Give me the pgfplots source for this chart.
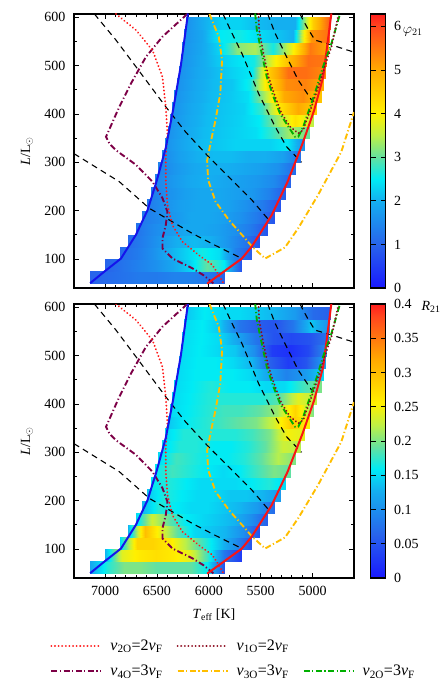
\documentclass[border=0pt]{standalone}
\usepackage{fontspec}
\setmainfont{Liberation Serif}
\usepackage{pgfplots}
\usepackage{pgfplotstable}
\pgfplotsset{compat=1.18}

\pgfplotsset{
  colormap={phase}{rgb255(0pt)=(25,25,255) rgb255(100pt)=(40,100,235) rgb255(200pt)=(20,175,240)
    rgb255(250pt)=(0,235,245) rgb255(300pt)=(100,225,160) rgb255(350pt)=(190,240,70)
    rgb255(400pt)=(255,240,0) rgb255(500pt)=(255,170,0) rgb255(600pt)=(255,70,30) rgb255(628pt)=(255,30,30)},
  panel/.style={
    scale only axis, width=280pt, height=274pt,
    xmin=4600, xmax=7300, x dir=reverse, ymin=40, ymax=607,
    xtick={5000,5500,6000,6500,7000}, minor x tick num=4,
    xticklabels={5000,5500,6000,6500,7000},
    ytick={100,200,300,400,500,600}, minor y tick num=1,
    yticklabels={100,200,300,400,500,600},
    tick align=inside, tick pos=both,
    major tick length=5pt, minor tick length=3pt,
    axis line style={line width=1.2pt},
    every tick/.style={black, line width=0.8pt},
    font=\fontsize{14}{16}\selectfont,
    xticklabel style={yshift=-5pt},
    yticklabel style={xshift=-5pt},
    ylabel={\textit{L}/L$_\odot$},
    ylabel style={at={(rel axis cs:-0.168,0.5)}, anchor=center},
    colormap name=phase,
    colorbar,
    colorbar style={width=15pt, at={(parent axis.north east)}, anchor=north west, xshift=8pt,
      tick align=inside, ytick pos=both, yticklabel pos=right, major tick length=5pt,
      axis line style={line width=1.2pt}, every tick/.style={black, line width=0.8pt},
      font=\fontsize{14}{16}\selectfont, yticklabel style={xshift=5pt}},
    clip mode=individual,
  },
  dl/.style={black, line width=1.1pt, dash pattern=on 6pt off 4.5pt},
  rdot/.style={color={rgb,255:red,255;green,25;blue,25}, line width=2.1pt, line cap=round, dash pattern=on 0.01pt off 3.6pt},
  drdot/.style={color={rgb,255:red,140;green,10;blue,30}, line width=2.1pt, line cap=round, dash pattern=on 0.01pt off 3.6pt},
  ddot/.style={line width=1.9pt, dash pattern=on 6pt off 2.5pt on 1.2pt off 2.5pt},
  vfour/.style={ddot, color={rgb,255:red,125;green,0;blue,70}},
  vthree/.style={ddot, color={rgb,255:red,255;green,190;blue,0}},
  vtwo/.style={ddot, color={rgb,255:red,0;green,175;blue,0}},
}

\newcommand\drawlines{%
  \addplot[dl, forget plot] table {\dA};
  \addplot[dl, forget plot] table {\dB};
  \addplot[dl, forget plot] table {\dC};
  \addplot[dl, forget plot] table {\dD};
  \addplot[dl, forget plot] table {\dE};
  \addplot[vthree, forget plot] table {\vthreeline};
  \addplot[vfour, forget plot] table {\vfourline};
  \addplot[rdot, forget plot] table {\rdotline};
  \addplot[color={rgb,255:red,20;green,20;blue,235}, line width=2pt, forget plot] table {\blueline};
  \addplot[color={rgb,255:red,250;green,20;blue,20}, line width=2pt, forget plot] table {\redline};
  \addplot[vtwo, forget plot] table {\vtwoline};
  \addplot[drdot, forget plot] table {\drdotline};
}

\begin{document}

% heatmap bands: two scanlines per 25 L band, a = phi21, b = R21
\pgfplotstableread{
x y a b
7144 50 1.0 0.12
6983 50 1.1 0.17
6821 50 1.2 0.20
6660 50 1.3 0.20
6499 50 1.3 0.19
6337 50 1.4 0.19
6176 50 1.4 0.19
6014 50 1.3 0.16
5853 50 1.0 0.05
7144 75 1.0 0.12
6983 75 1.1 0.17
6821 75 1.2 0.20
6660 75 1.3 0.20
6499 75 1.3 0.19
6337 75 1.4 0.19
6176 75 1.4 0.19
6014 75 1.3 0.16
5853 75 1.0 0.05
7001 75 1.0 0.13
6837 75 1.2 0.24
6673 75 1.4 0.26
6509 75 1.6 0.27
6345 75 1.9 0.26
6180 75 2.3 0.24
6016 75 3.0 0.18
5852 75 2.5 0.08
5688 75 0.8 0.03
7001 100 1.0 0.13
6837 100 1.2 0.24
6673 100 1.4 0.26
6509 100 1.6 0.27
6345 100 1.9 0.26
6180 100 2.3 0.24
6016 100 3.0 0.18
5852 100 2.5 0.08
5688 100 0.8 0.03
6853 100 1.1 0.15
6695 100 1.3 0.28
6537 100 1.6 0.28
6379 100 2.0 0.26
6221 100 2.3 0.22
6063 100 2.6 0.18
5905 100 2.4 0.14
5747 100 1.4 0.10
5589 100 0.9 0.05
6853 125 1.1 0.15
6695 125 1.3 0.28
6537 125 1.6 0.28
6379 125 2.0 0.26
6221 125 2.3 0.22
6063 125 2.6 0.18
5905 125 2.4 0.14
5747 125 1.4 0.10
5589 125 0.9 0.05
6776 125 1.1 0.13
6618 125 1.4 0.30
6460 125 1.7 0.24
6303 125 2.0 0.19
6145 125 2.1 0.15
5987 125 2.0 0.14
5830 125 1.7 0.13
5672 125 1.3 0.10
5514 125 0.8 0.05
6776 150 1.1 0.13
6618 150 1.4 0.30
6460 150 1.7 0.24
6303 150 2.0 0.19
6145 150 2.1 0.15
5987 150 2.0 0.14
5830 150 1.7 0.13
5672 150 1.3 0.10
5514 150 0.8 0.05
6703 150 1.2 0.15
6545 150 1.5 0.23
6387 150 1.7 0.19
6229 150 1.9 0.16
6072 150 1.9 0.15
5914 150 1.8 0.14
5756 150 1.6 0.13
5598 150 1.3 0.10
5440 150 0.8 0.06
6703 175 1.2 0.15
6545 175 1.5 0.23
6387 175 1.7 0.19
6229 175 1.9 0.16
6072 175 1.9 0.15
5914 175 1.8 0.14
5756 175 1.6 0.13
5598 175 1.3 0.10
5440 175 0.8 0.06
6648 175 1.3 0.13
6489 175 1.5 0.17
6329 175 1.7 0.16
6170 175 1.9 0.15
6011 175 1.9 0.15
5851 175 1.8 0.14
5692 175 1.6 0.13
5532 175 1.3 0.11
5373 175 0.8 0.07
6648 200 1.3 0.13
6489 200 1.5 0.17
6329 200 1.7 0.16
6170 200 1.9 0.15
6011 200 1.9 0.15
5851 200 1.8 0.14
5692 200 1.6 0.13
5532 200 1.3 0.11
5373 200 0.8 0.07
6593 200 1.3 0.14
6434 200 1.6 0.17
6274 200 1.8 0.16
6115 200 1.9 0.15
5956 200 1.9 0.15
5796 200 1.8 0.14
5637 200 1.6 0.14
5477 200 1.3 0.13
5318 200 0.8 0.11
6593 225 1.3 0.14
6434 225 1.6 0.17
6274 225 1.8 0.16
6115 225 1.9 0.15
5956 225 1.9 0.15
5796 225 1.8 0.14
5637 225 1.6 0.14
5477 225 1.3 0.13
5318 225 0.8 0.11
6556 225 1.3 0.16
6394 225 1.6 0.17
6233 225 1.8 0.16
6071 225 1.9 0.15
5909 225 1.9 0.15
5747 225 1.8 0.15
5586 225 1.7 0.16
5424 225 1.4 0.17
5262 225 0.9 0.15
6556 250 1.3 0.16
6394 250 1.6 0.17
6233 250 1.8 0.16
6071 250 1.9 0.15
5909 250 1.9 0.15
5747 250 1.8 0.15
5586 250 1.7 0.16
5424 250 1.4 0.17
5262 250 0.9 0.15
6520 250 1.4 0.16
6357 250 1.7 0.18
6193 250 1.9 0.17
6030 250 2.0 0.16
5867 250 1.9 0.15
5703 250 1.8 0.16
5540 250 1.7 0.18
5376 250 1.5 0.20
5213 250 1.0 0.19
6520 275 1.4 0.16
6357 275 1.7 0.18
6193 275 1.9 0.17
6030 275 2.0 0.16
5867 275 1.9 0.15
5703 275 1.8 0.16
5540 275 1.7 0.18
5376 275 1.5 0.20
5213 275 1.0 0.19
6486 275 1.4 0.15
6321 275 1.7 0.18
6157 275 1.9 0.17
5992 275 2.0 0.16
5827 275 2.0 0.16
5662 275 1.9 0.17
5497 275 1.8 0.19
5333 275 1.6 0.22
5168 275 1.1 0.20
6486 300 1.4 0.15
6321 300 1.7 0.18
6157 300 1.9 0.17
5992 300 2.0 0.16
5827 300 2.0 0.16
5662 300 1.9 0.17
5497 300 1.8 0.19
5333 300 1.6 0.22
5168 300 1.1 0.20
6454 300 1.5 0.15
6288 300 1.8 0.17
6121 300 2.0 0.17
5955 300 2.1 0.16
5788 300 2.1 0.16
5622 300 2.0 0.17
5455 300 2.0 0.19
5289 300 1.8 0.23
5122 300 1.2 0.22
6454 325 1.5 0.15
6288 325 1.8 0.17
6121 325 2.0 0.17
5955 325 2.1 0.16
5788 325 2.1 0.16
5622 325 2.0 0.17
5455 325 2.0 0.19
5289 325 1.8 0.23
5122 325 1.2 0.22
6421 325 1.6 0.15
6253 325 1.9 0.17
6085 325 2.1 0.17
5917 325 2.2 0.17
5750 325 2.3 0.17
5582 325 2.3 0.18
5414 325 2.3 0.20
5246 325 2.5 0.25
5078 325 1.6 0.24
6421 350 1.6 0.15
6253 350 1.9 0.17
6085 350 2.1 0.17
5917 350 2.2 0.17
5750 350 2.3 0.17
5582 350 2.3 0.18
5414 350 2.3 0.20
5246 350 2.5 0.25
5078 350 1.6 0.24
6397 350 1.6 0.14
6227 350 1.9 0.16
6057 350 2.1 0.17
5887 350 2.2 0.18
5717 350 2.3 0.19
5547 350 2.4 0.20
5377 350 2.8 0.23
5207 350 3.4 0.29
5037 350 3.0 0.25
6397 375 1.6 0.14
6227 375 1.9 0.16
6057 375 2.1 0.17
5887 375 2.2 0.18
5717 375 2.3 0.19
5547 375 2.4 0.20
5377 375 2.8 0.23
5207 375 3.4 0.29
5037 375 3.0 0.25
6375 375 1.6 0.15
6203 375 1.9 0.16
6030 375 2.1 0.17
5858 375 2.2 0.18
5686 375 2.3 0.18
5514 375 2.5 0.19
5342 375 3.3 0.21
5169 375 4.2 0.28
4997 375 3.5 0.20
6375 400 1.6 0.15
6203 400 1.9 0.16
6030 400 2.1 0.17
5858 400 2.2 0.18
5686 400 2.3 0.18
5514 400 2.5 0.19
5342 400 3.3 0.21
5169 400 4.2 0.28
4997 400 3.5 0.20
6352 400 1.6 0.15
6178 400 1.9 0.16
6005 400 2.1 0.17
5831 400 2.2 0.17
5658 400 2.3 0.17
5484 400 2.8 0.17
5310 400 4.2 0.19
5137 400 5.0 0.24
4963 400 4.5 0.22
6352 425 1.6 0.15
6178 425 1.9 0.16
6005 425 2.1 0.17
5831 425 2.2 0.17
5658 425 2.3 0.17
5484 425 2.8 0.17
5310 425 4.2 0.19
5137 425 5.0 0.24
4963 425 4.5 0.22
6331 425 1.6 0.15
6154 425 1.9 0.16
5978 425 2.1 0.17
5801 425 2.2 0.16
5625 425 2.4 0.16
5448 425 3.5 0.15
5271 425 5.0 0.15
5095 425 5.3 0.18
4918 425 4.6 0.20
6331 450 1.6 0.15
6154 450 1.9 0.16
5978 450 2.1 0.17
5801 450 2.2 0.16
5625 450 2.4 0.16
5448 450 3.5 0.15
5271 450 5.0 0.15
5095 450 5.3 0.18
4918 450 4.6 0.20
6310 450 1.6 0.15
6134 450 1.9 0.16
5958 450 2.1 0.16
5781 450 2.2 0.16
5605 450 2.6 0.15
5429 450 4.3 0.12
5253 450 5.3 0.09
5076 450 5.4 0.11
4900 450 5.0 0.15
6310 475 1.6 0.15
6134 475 1.9 0.16
5958 475 2.1 0.16
5781 475 2.2 0.16
5605 475 2.6 0.15
5429 475 4.3 0.12
5253 475 5.3 0.09
5076 475 5.4 0.11
4900 475 5.0 0.15
6290 475 1.6 0.15
6114 475 1.9 0.16
5938 475 2.1 0.16
5762 475 2.3 0.15
5587 475 2.5 0.13
5411 475 4.6 0.06
5235 475 5.6 0.03
5059 475 5.6 0.05
4883 475 5.3 0.12
6290 500 1.6 0.15
6114 500 1.9 0.16
5938 500 2.1 0.16
5762 500 2.3 0.15
5587 500 2.5 0.13
5411 500 4.6 0.06
5235 500 5.6 0.03
5059 500 5.6 0.05
4883 500 5.3 0.12
6270 500 1.6 0.15
6095 500 1.9 0.16
5920 500 2.2 0.15
5744 500 2.4 0.14
5569 500 2.6 0.10
5394 500 3.8 0.03
5219 500 4.8 0.02
5043 500 5.6 0.04
4868 500 5.5 0.10
6270 525 1.6 0.15
6095 525 1.9 0.16
5920 525 2.2 0.15
5744 525 2.4 0.14
5569 525 2.6 0.10
5394 525 3.8 0.03
5219 525 4.8 0.02
5043 525 5.6 0.04
4868 525 5.5 0.10
6254 525 1.6 0.15
6079 525 1.9 0.16
5904 525 2.3 0.15
5729 525 3.2 0.12
5554 525 3.4 0.08
5378 525 2.6 0.05
5203 525 3.8 0.04
5028 525 5.5 0.05
4853 525 5.0 0.08
6254 550 1.6 0.15
6079 550 1.9 0.16
5904 550 2.3 0.15
5729 550 3.2 0.12
5554 550 3.4 0.08
5378 550 2.6 0.05
5203 550 3.8 0.04
5028 550 5.5 0.05
4853 550 5.0 0.08
6238 550 1.6 0.15
6063 550 1.9 0.16
5888 550 2.5 0.14
5713 550 2.6 0.08
5538 550 2.4 0.06
5363 550 2.2 0.05
5188 550 2.0 0.08
5013 550 5.2 0.14
4838 550 5.6 0.10
6238 575 1.6 0.15
6063 575 1.9 0.16
5888 575 2.5 0.14
5713 575 2.6 0.08
5538 575 2.4 0.06
5363 575 2.2 0.05
5188 575 2.0 0.08
5013 575 5.2 0.14
4838 575 5.6 0.10
6222 575 1.6 0.14
6047 575 2.0 0.16
5872 575 2.3 0.15
5698 575 2.3 0.15
5523 575 2.1 0.14
5348 575 2.0 0.13
5173 575 2.0 0.11
4998 575 4.5 0.07
4823 575 5.9 0.06
6222 600 1.6 0.14
6047 600 2.0 0.16
5872 600 2.3 0.15
5698 600 2.3 0.15
5523 600 2.1 0.14
5348 600 2.0 0.13
5173 600 2.0 0.11
4998 600 4.5 0.07
4823 600 5.9 0.06
}\heat

\pgfplotstableread{
x y
7144 50
7007 74
6847 101
6703 150
6591 201
6505 260
6415 330
6345 408
6270 500
6201 608
}\blueline

\pgfplotstableread{
x y
6016 49
5681 101
5585 126
5393 191
5240 260
5096 339
4984 408
4897 477
4818 608
}\redline

\pgfplotstableread{
x y
7103 607
6895 553
6703 498
6415 415
6224 363
6000 311
5776 263
5584 222
5419 180
}\dA

\pgfplotstableread{
x y
7300 318
6863 260
6575 205
6383 181
6160 153
5936 128
5680 101
}\dB

\pgfplotstableread{
x y
5863 607
5776 567
5680 525
5521 443
5361 374
5249 332
5105 300
}\dC

\pgfplotstableread{
x y
5432 607
5361 567
5265 525
5137 470
5009 429
}\dD

\pgfplotstableread{
x y
5121 607
5057 581
4977 553
4818 543
4600 528
}\dE

\pgfplotstableread{
x y
6895 607
6703 574
6543 532
6447 477
6415 415
6399 360
6415 311
6415 260
6399 212
6351 170
6256 136
6096 108
5968 88
5904 67
5856 49
}\rdotline

\pgfplotstableread{
x y
6208 607
6447 560
6607 518
6751 463
6863 415
6991 353
6959 339
6895 325
6703 295
6543 260
6447 226
6399 198
6415 170
6447 143
6447 122
6351 101
6160 81
6048 66
5952 49
}\vfourline

\pgfplotstableread{
x y
5994 607
5904 560
5872 512
5889 443
5936 387
5984 339
6016 304
6007 264
5936 219
5808 181
5680 150
5584 126
5457 101
5265 124
5137 164
4945 233
4722 322
4600 404
}\vthreeline

\pgfplotstableread{
x y
5553 608
5537 574
5489 525
5441 477
5377 436
5313 401
5233 374
5169 353
5137 353
5089 374
4977 443
4898 498
4818 546
4738 605
}\vtwoline

\pgfplotstableread{
x y
5521 608
5515 574
5473 525
5425 477
5361 436
5297 401
5217 374
5137 360
5089 367
5057 387
5009 415
4945 456
4882 498
4818 539
4754 601
}\drdotline

\begin{tikzpicture}
\useasboundingbox (0pt,0pt) rectangle (439pt,-692pt);

\begin{axis}[panel, at={(74pt,-14pt)}, anchor=north west, xticklabels={},
  point meta min=0, point meta max=6.2832,
  colorbar style={ytick={0,1,2,3,4,5,6}, yticklabels={0,1,2,3,4,5,6}}]
  \addplot[surf, shader=interp, mesh/cols=9, point meta=\thisrow{a}, forget plot] table[x=x, y=y] {\heat};
  \drawlines
  \node at (rel axis cs:1.21,0.935) {$\varphi_{21}$};
\end{axis}

\begin{axis}[panel, at={(74pt,-304pt)}, anchor=north west,
  point meta min=0, point meta max=0.4,
  colorbar style={ytick={0,0.05,0.1,0.15,0.2,0.25,0.3,0.35,0.4},
    yticklabels={0,0.05,0.1,0.15,0.2,0.25,0.3,0.35,0.4}},
  xlabel={\textit{T}\textsubscript{eff} [K]},
  xlabel style={at={(rel axis cs:0.5,-0.135)}, anchor=center},
  legend columns=3,
  legend cell align=left,
  legend image code/.code={\draw[#1] (0pt,0pt) -- (50pt,0pt);},
  legend style={at={(-0.096,-0.21)}, anchor=north west, draw=none, fill=none,
    font=\fontsize{16}{18}\selectfont, row sep=9pt,
    /tikz/every odd column/.append style={column sep=6pt},
    /tikz/every even column/.append style={column sep=12pt}}]
  \addplot[surf, shader=interp, mesh/cols=9, point meta=\thisrow{b}, forget plot] table[x=x, y=y] {\heat};
  \drawlines
  \node at (rel axis cs:1.275,0.99) {\textit{R}\textsubscript{21}};
  \addlegendimage{rdot}
  \addlegendentry{\textit{ν}\textsubscript{2O}=2\textit{ν}\textsubscript{F}}
  \addlegendimage{drdot}
  \addlegendentry{\textit{ν}\textsubscript{1O}=2\textit{ν}\textsubscript{F}}
  \addlegendimage{empty legend}
  \addlegendentry{}
  \addlegendimage{vfour}
  \addlegendentry{\textit{ν}\textsubscript{4O}=3\textit{ν}\textsubscript{F}}
  \addlegendimage{vthree}
  \addlegendentry{\textit{ν}\textsubscript{3O}=3\textit{ν}\textsubscript{F}}
  \addlegendimage{vtwo}
  \addlegendentry{\textit{ν}\textsubscript{2O}=3\textit{ν}\textsubscript{F}}
\end{axis}
\end{tikzpicture}
\end{document}
